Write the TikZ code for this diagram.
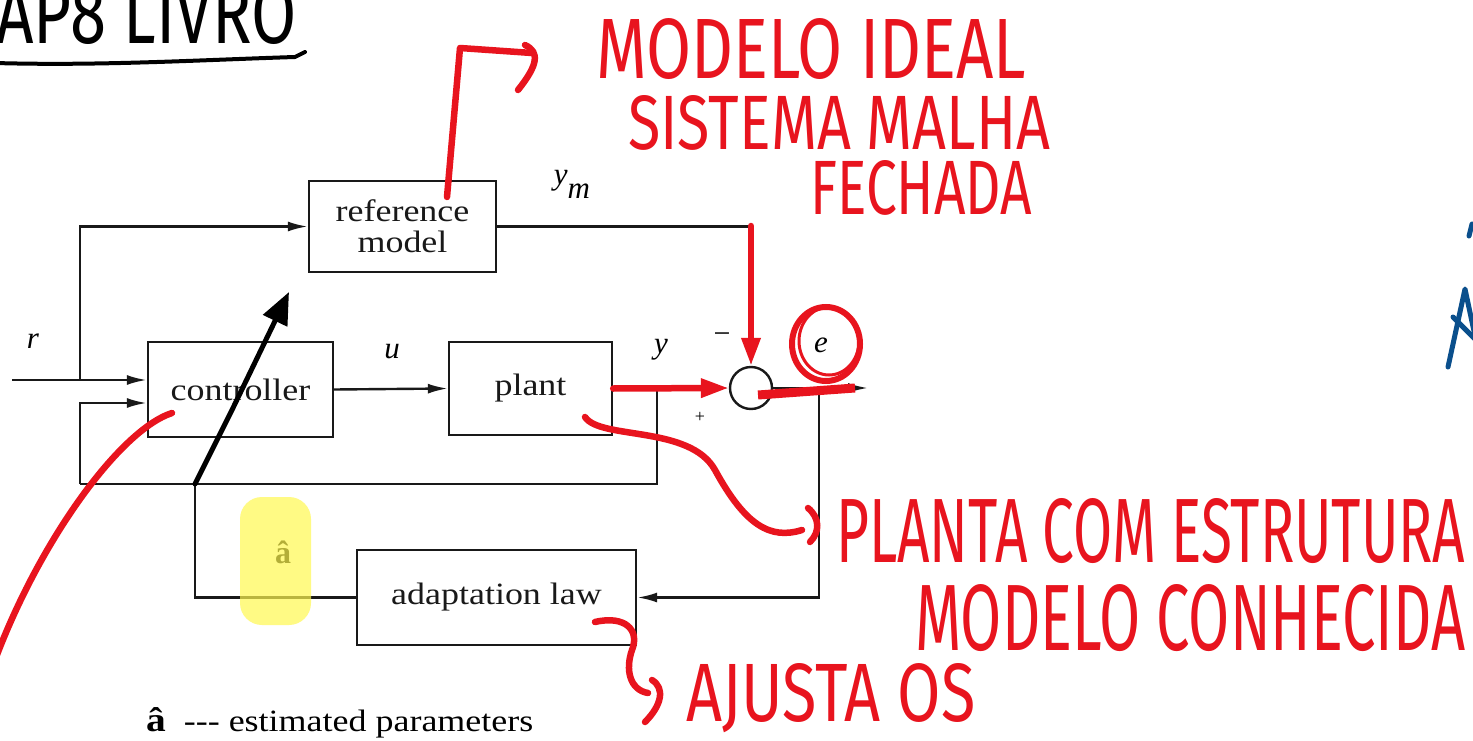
\documentclass[tikz,border=0pt]{standalone}
\usepackage{fontspec}
\setmainfont{Liberation Serif}
\newfontfamily\handfont{Fira Sans}
\usetikzlibrary{arrows.meta,calc}
\definecolor{ink}{HTML}{E8141E}
\definecolor{blueink}{HTML}{0A4F8C}
\definecolor{hl}{RGB}{255,248,80}
\newcommand{\handtext}[3]{\resizebox{#1}{#2}{\handfont #3}}
\newcommand{\wide}[1]{\scalebox{1.16}[1]{#1}}
\begin{document}
\begin{tikzpicture}[x=1pt,y=-1pt,
  wire/.style={line width=2.4pt,black!90},
  arr/.tip={Latex[length=20pt,width=10pt]},
  blk/.style={draw,line width=2.4pt,black!90,inner sep=0pt,font=\fontsize{31}{31}\selectfont,align=center},
  lbl/.style={font=\fontsize{31}{31}\selectfont\itshape,inner sep=0pt},
  red/.style={ink,line width=6.5pt,line cap=round,line join=round},
  redarr/.tip={Triangle[length=28pt,width=18pt]},
  hand/.style={inner sep=0pt,anchor=south west,text=ink}]
\useasboundingbox (0,0) rectangle (1473,741);
\clip (0,0) rectangle (1473,741);
\fill[white] (0,0) rectangle (1473,741);

% blocks
\node[blk,minimum width=187pt,minimum height=91pt] (ref) at (402.5,226.5) {\wide{reference}\\\wide{model}};
\node[blk,minimum width=185pt,minimum height=95pt] (ctrl) at (240.5,389.5) {\wide{controller}};
\node[blk,minimum width=163pt,minimum height=93pt] (plant) at (530.5,388.5) {\wide{plant}};
\node[blk,minimum width=279pt,minimum height=95pt] (adapt) at (496.5,597.5) {\wide{adaptation law}};
\node[draw,circle,line width=2.4pt,black!90,minimum size=42pt,inner sep=0pt] (sum) at (751,388) {};

% coordinates
\coordinate (rstart) at (12,380);
\coordinate (rbr) at (80,380);
\coordinate (ybr) at (657,388);
\coordinate (fbc) at (80,484);
\coordinate (ajunc) at (195,484);
\coordinate (ebr) at (819,388);
\coordinate (eout) at (868,388);
\coordinate (cin1) at ($(ctrl.west)+(0,-9.5)$);
\coordinate (cin2) at ($(ctrl.west)+(0,13.5)$);

% connectors
\draw[wire,-arr] (rstart) -- (cin1);
\draw[wire,-arr] (rbr) |- (ref.west);
\draw[wire,-arr] (ctrl.east) -- (plant.west);
\draw[wire,-arr] (plant.east) -- (sum.west);
\draw[wire,-arr] (ref.east) -| (sum.north);
\draw[wire,-arr] (sum.east) -- (eout);
\draw[wire,-arr] (ebr) |- (adapt.east);
\draw[wire] (ybr) |- (fbc);
\draw[wire,-arr] (fbc) |- (cin2);
\draw[wire] (adapt.west) -| (ajunc);

% labels
\node[lbl] (lr) at (33,341) {r};
\node[lbl] (lu) at (392,352) {u};
\node[lbl] (ly) at (661,350) {y};
\node[lbl] (lym) at (572,184) {y\raisebox{-14pt}{m}};
\node[lbl] (le) at (821,345) {e};
\node[inner sep=0pt,font=\fontsize{30}{30}\selectfont] (lminus) at (722,338) {−};
\node[inner sep=0pt,font=\fontsize{18}{18}\selectfont] (lplus) at (700,417) {+};
\node[inner sep=0pt,anchor=base west,font=\fontsize{31}{31}\selectfont] (legend) at (146,731) {\scalebox{1.16}[1]{\textbf{\fontsize{34}{34}\selectfont â}\ \ -{}-{}- estimated parameters}};
\node[inner sep=0pt,font=\fontsize{32}{32}\selectfont] (ahat) at (283,552) {\textbf{â}};

% yellow highlight
\fill[hl,fill opacity=0.7,rounded corners=22pt] (240,497) rectangle (311,625);

% black hand annotation
\draw[line width=5pt,line cap=round,line join=round,-{Triangle[length=32pt,width=26pt]}] (ajunc) -- (232,410) -- (289,292);
\draw[line width=4pt,line cap=round] (-5,63) .. controls (100,66) and (200,60) .. (295,57) -- (305,52);
\node[inner sep=0pt,anchor=south west] (title) at (-4,45) {\resizebox{300pt}{60pt}{\handfont AP8 LIVRO}};

% red annotations
\draw[red] (447,197) -- (460,48) -- (532,53);
\draw[red] (525,45) .. controls (540,52) and (538,65) .. (518,90);
\node[hand] (t1) at (596,80) {\handtext{430pt}{60pt}{MODELO IDEAL}};
\node[hand] (t2) at (628,151) {\handtext{422pt}{54pt}{SISTEMA MALHA}};
\node[hand] (t3) at (810,216) {\handtext{222pt}{54pt}{FECHADA}};

\draw[red,-redarr] (751,226) -- (sum.north);
\draw[red,-redarr] (plant.east) -- (sum.west);
\draw[red,line width=9pt,line cap=butt] (758,395) -- (855,388);
\draw[ink,line width=6pt] (826,344) ellipse (34 and 37);
\draw[ink,line width=3pt] (829,341) ellipse (30 and 34);

\draw[red] (172,413) .. controls (120,430) and (40,540) .. (-5,660);

\draw[red] (585,417) .. controls (600,440) and (690,425) .. (715,470) .. controls (745,525) and (770,540) .. (802,530);
\draw[red] (808,508) .. controls (820,518) and (820,532) .. (810,542);
\node[hand] (t4) at (836,564) {\handtext{629pt}{64pt}{PLANTA COM ESTRUTURA}};
\node[hand] (t5) at (915,652) {\handtext{550pt}{66pt}{MODELO CONHECIDA}};

\draw[red] (595,622) .. controls (625,615) and (640,630) .. (632,650) .. controls (625,670) and (630,690) .. (648,693);
\draw[red] (652,680) .. controls (665,688) and (662,705) .. (645,722);
\node[hand] (t6) at (686,733) {\handtext{289pt}{58pt}{AJUSTA OS}};

% blue marks at right edge
\draw[blueink,line width=5pt,line cap=round] (1472,224) -- (1469,236);
\draw[blueink,line width=5pt,line cap=round,line join=round] (1448,367) -- (1465,289) -- (1478,350);
\draw[blueink,line width=5pt,line cap=round] (1453,317) -- (1476,340);
\end{tikzpicture}
\end{document}
